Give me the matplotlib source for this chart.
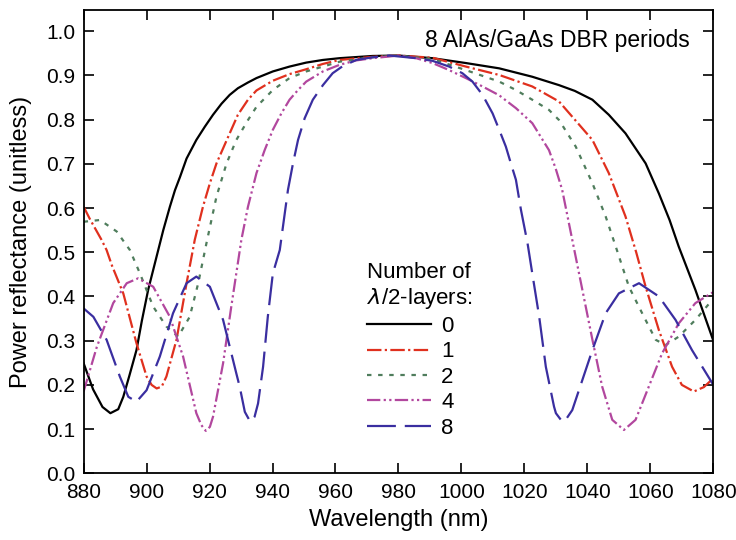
import matplotlib
matplotlib.use("Agg")
import matplotlib.pyplot as plt

plt.rcParams['font.family'] = ['Liberation Sans', 'DejaVu Sans']

# values (wavelength in nm, reflectance)
black_wl = [880, 883, 886, 888.5, 891, 892.6, 894.5, 896.8, 898.5, 900.5, 903.7, 905.3, 907.4, 909,
            910.6, 912.7, 915.8, 918.5, 921.1, 923.8, 926.4, 929, 932.2, 934.9, 940.1, 945.4, 950.7,
            956, 961.3, 971.8, 980, 990.8, 1001.4, 1012, 1022.5, 1031, 1036, 1041.6, 1046.8, 1052.1,
            1055.3, 1058.5, 1062.7, 1066.1, 1069, 1074.3, 1080]
black_R = [0.249, 0.19, 0.15, 0.136, 0.145, 0.173, 0.22, 0.279, 0.345, 0.415, 0.505, 0.55, 0.603, 0.64,
           0.67, 0.712, 0.754, 0.784, 0.811, 0.836, 0.856, 0.871, 0.884, 0.894, 0.909, 0.92, 0.929,
           0.935, 0.939, 0.944, 0.945, 0.939, 0.928, 0.916, 0.897, 0.878, 0.865, 0.845, 0.811, 0.769,
           0.735, 0.701, 0.633, 0.573, 0.513, 0.415, 0.3]

red_wl = [880, 882, 885.7, 887.3, 889, 892.6, 896.8, 900, 901.6, 903.2, 904.8, 906.3, 909.5, 912.7,
          915.3, 917.9, 920.1, 922.2, 926.4, 929, 932.2, 934.9, 940.1, 945.4, 950.7, 956, 961.3,
          971.8, 980, 990.8, 1001.4, 1012, 1022.5, 1031, 1036, 1041.6, 1046.8, 1052.1, 1055.5,
          1058.5, 1062.7, 1066.9, 1070, 1073.8, 1077, 1080]
red_R = [0.603, 0.575, 0.528, 0.505, 0.47, 0.407, 0.294, 0.219, 0.2, 0.192, 0.196, 0.219, 0.302, 0.43,
         0.528, 0.603, 0.656, 0.701, 0.769, 0.811, 0.845, 0.866, 0.888, 0.903, 0.914, 0.926, 0.935,
         0.942, 0.945, 0.94, 0.92, 0.901, 0.875, 0.841, 0.8, 0.754, 0.679, 0.581, 0.5,
         0.422, 0.324, 0.241, 0.2, 0.185, 0.195, 0.215]

green_wl = [880, 885.2, 890.5, 894.7, 897.9, 902.1, 906.3, 910, 913.7, 916.4, 919, 922.2, 925.4, 928.5,
            932.2, 934.9, 940.1, 945.4, 950.7, 956, 961.3, 971.8, 980, 990.8, 1001.4, 1012, 1017.3,
            1022.5, 1027.8, 1031, 1036.3, 1041.6, 1045.8, 1049, 1053.2, 1057.4, 1061.7, 1064.8,
            1069, 1074.3, 1080]
green_R = [0.569, 0.573, 0.547, 0.505, 0.452, 0.377, 0.332, 0.309, 0.354, 0.43, 0.52, 0.626, 0.701, 0.754,
           0.799, 0.829, 0.867, 0.894, 0.909, 0.92, 0.931, 0.941, 0.945, 0.937, 0.912, 0.886, 0.867,
           0.845, 0.822, 0.799, 0.739, 0.656, 0.581, 0.513, 0.422, 0.362, 0.302, 0.29,
           0.309, 0.347, 0.395]

mag_wl = [880, 884.2, 889.4, 893.7, 897.3, 902.1, 907.4, 911.6, 915.8, 917.4, 918.8, 920.1, 921.1, 924.3,
          926.9, 930.1, 932.2, 934.9, 937.5, 940.1, 942.8, 945.4, 948.1, 950.7, 956, 961.3, 966.6,
          971.8, 980, 985.6, 990.8, 996.1, 1001.4, 1006.7, 1012, 1017.3, 1022.5, 1027.8, 1029.9,
          1032, 1035.2, 1038.4, 1041.6, 1044.7, 1047.9, 1051.6, 1055.3, 1059.5, 1063.7, 1069,
          1074.3, 1080]
mag_R = [0.185, 0.286, 0.385, 0.43, 0.441, 0.422, 0.354, 0.264, 0.136, 0.109, 0.096, 0.105, 0.128, 0.249,
         0.377, 0.528, 0.603, 0.679, 0.731, 0.777, 0.814, 0.845, 0.867, 0.886, 0.909, 0.924, 0.934,
         0.939, 0.945, 0.939, 0.928, 0.912, 0.894, 0.875, 0.855, 0.826, 0.792, 0.731, 0.69,
         0.641, 0.528, 0.415, 0.302, 0.196, 0.121, 0.098, 0.121, 0.196, 0.271, 0.339,
         0.385, 0.41]

blue_wl = [880, 883.1, 887.3, 891.5, 894.2, 896.8, 900, 904.2, 908.4, 912.7, 915.8, 920.1, 924.3, 928.5,
           929.6, 931.2, 932.9, 934.3, 935.4, 937, 938.5, 940.1, 942.3, 944.9, 946.5, 948.1, 950.2,
           952.8, 956, 959.1, 962.3, 966.6, 971.8, 977.1, 985.6, 990.8, 996.1, 1000.3, 1003.5,
           1006.7, 1009.9, 1012, 1014.1, 1015.7, 1017.3, 1018.9, 1021, 1022.5, 1024.7, 1026.8,
           1029.4, 1030, 1032, 1033.1, 1035.2, 1038.4, 1041.6, 1045.8, 1050, 1056.4, 1062.7,
           1068, 1073.2, 1080]
blue_R = [0.373, 0.354, 0.302, 0.219, 0.173, 0.162, 0.188, 0.264, 0.362, 0.43, 0.445, 0.422, 0.347, 0.226,
          0.195, 0.139, 0.117, 0.128, 0.158, 0.241, 0.354, 0.452, 0.505, 0.641, 0.701, 0.754, 0.803,
          0.845, 0.878, 0.905, 0.921, 0.935, 0.941, 0.945, 0.939, 0.933, 0.92, 0.905, 0.886,
          0.856, 0.814, 0.777, 0.739, 0.701, 0.664, 0.596, 0.52, 0.452, 0.354, 0.241,
          0.151, 0.136, 0.117, 0.121, 0.143, 0.211, 0.279, 0.362, 0.407, 0.43, 0.4,
          0.347, 0.279, 0.2]

labels = ["0", "1", "2", "4", "8"]

fig = plt.figure(figsize=(7.36, 5.4), dpi=100)
ax = fig.add_axes([0.1136, 0.1235, 0.8556, 0.858])

lw = 1.6
ax.plot(black_wl, black_R, color="black", lw=lw, label=labels[0])
ax.plot(red_wl, red_R, color="#e0301e", lw=lw, dashes=(6.5, 1.5, 1, 1.5), label=labels[1])
ax.plot(green_wl, green_R, color="#4f7d5c", lw=lw, dashes=(2, 3), label=labels[2])
ax.plot(mag_wl, mag_R, color="#b2479e", lw=lw, dashes=(6, 1.5, 1, 1.5, 1, 1.5), label=labels[3])
ax.plot(blue_wl, blue_R, color="#3a2ea0", lw=lw, dashes=(13, 4), label=labels[4])

ax.set_xlim(880, 1080)
ax.set_ylim(0, 1.048)
ax.set_xticks(range(880, 1081, 20))
ax.set_yticks([i / 10 for i in range(11)])
ax.set_yticklabels([f"{i / 10:.1f}" for i in range(11)])
ax.tick_params(direction="in", top=True, right=True, length=7, width=1.2, labelsize=15)
ax.tick_params(axis="x", pad=7)
ax.tick_params(axis="y", pad=6)
for s in ax.spines.values():
    s.set_linewidth(1.3)

ax.set_xlabel("Wavelength (nm)", fontsize=17, labelpad=5)
ax.set_ylabel("Power reflectance (unitless)", fontsize=17, labelpad=10)

ax.text(0.963, 0.935, "8 AlAs/GaAs DBR periods", transform=ax.transAxes,
        ha="right", va="center", fontsize=16.5)

leg = ax.legend(loc="upper left", bbox_to_anchor=(0.425, 0.49), frameon=False, fontsize=16,
                title="Number of\n$\\mathit{\\lambda}$/2-layers:", title_fontsize=16,
                handlelength=2.9, labelspacing=0.2, handletextpad=0.45, borderpad=0.2)
leg._legend_box.align = "left"

plt.savefig("out.png", dpi=100)
